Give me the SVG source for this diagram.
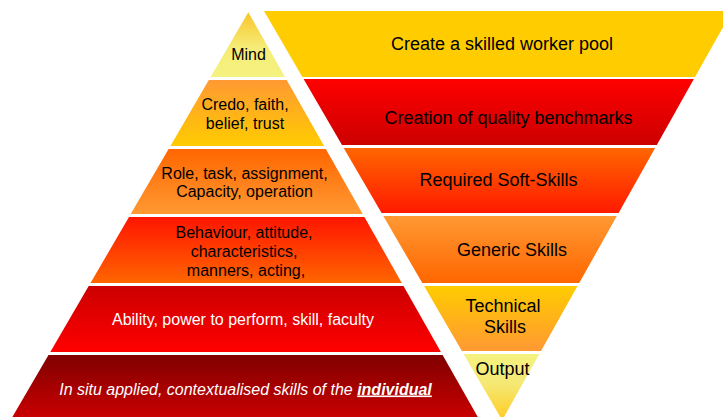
<svg xmlns="http://www.w3.org/2000/svg" width="723" height="417" viewBox="0 0 723 417">
  <defs>
    <linearGradient id="gMind" x1="0" y1="0" x2="0" y2="1">
      <stop offset="0" stop-color="#F9C52B"/>
      <stop offset="0.55" stop-color="#F5EC78"/>
      <stop offset="1" stop-color="#F5F280"/>
    </linearGradient>
    <linearGradient id="gCredo" x1="0" y1="0" x2="0" y2="1">
      <stop offset="0" stop-color="#FF9933"/>
      <stop offset="1" stop-color="#FFCC00"/>
    </linearGradient>
    <linearGradient id="gRole" x1="0" y1="0" x2="0" y2="1">
      <stop offset="0" stop-color="#FF6600"/>
      <stop offset="1" stop-color="#FF9933"/>
    </linearGradient>
    <linearGradient id="gBeh" x1="0" y1="0" x2="0" y2="1">
      <stop offset="0" stop-color="#FF1500"/>
      <stop offset="1" stop-color="#FF6600"/>
    </linearGradient>
    <linearGradient id="gAbil" x1="0" y1="0" x2="0" y2="1">
      <stop offset="0" stop-color="#CC0000"/>
      <stop offset="1" stop-color="#FF0000"/>
    </linearGradient>
    <linearGradient id="gSitu" x1="0" y1="0" x2="0" y2="1">
      <stop offset="0" stop-color="#800000"/>
      <stop offset="1" stop-color="#CC0000"/>
    </linearGradient>
    <linearGradient id="gCreation" x1="0" y1="0" x2="0" y2="1">
      <stop offset="0" stop-color="#FF0000"/>
      <stop offset="1" stop-color="#CC0000"/>
    </linearGradient>
    <linearGradient id="gReq" x1="0" y1="0" x2="0" y2="1">
      <stop offset="0" stop-color="#FF6600"/>
      <stop offset="1" stop-color="#FF1A00"/>
    </linearGradient>
    <linearGradient id="gGen" x1="0" y1="0" x2="0" y2="1">
      <stop offset="0" stop-color="#FF9933"/>
      <stop offset="1" stop-color="#FF6600"/>
    </linearGradient>
    <linearGradient id="gTech" x1="0" y1="0" x2="0" y2="1">
      <stop offset="0" stop-color="#FFCC00"/>
      <stop offset="1" stop-color="#FF9933"/>
    </linearGradient>
    <linearGradient id="gOut" x1="0" y1="0" x2="0" y2="1">
      <stop offset="0" stop-color="#F5F280"/>
      <stop offset="0.45" stop-color="#F5E874"/>
      <stop offset="1" stop-color="#FFCC22"/>
    </linearGradient>
  </defs>
  <style>
    text { font-family: "Liberation Sans", Arial, sans-serif; text-anchor: middle; fill: #000000; }
    .l { font-size: 16px; }
    .r { font-size: 18px; }
    .w { fill: #FFFFFF; }
  </style>
  <rect x="0" y="0" width="723" height="417" fill="#FFFFFF"/>

  <g id="pyramid-left">
    <g id="mind">
      <polygon points="248.3,12.3 285.0,77 210.6,77" fill="url(#gMind)"/>
      <text class="l" x="248.5" y="60">Mind</text>
    </g>
    <g id="credo">
      <polygon points="208.8,80 286.7,80 324.1,146 170.4,146" fill="url(#gCredo)"/>
      <text class="l" x="245" y="110">Credo, faith,</text>
      <text class="l" x="245" y="128.5">belief, trust</text>
    </g>
    <g id="role">
      <polygon points="168.6,149 325.8,149 362.7,214 130.7,214" fill="url(#gRole)"/>
      <text class="l" x="244.5" y="178.5">Role, task, assignment,</text>
      <text class="l" x="244.5" y="197">Capacity, operation</text>
    </g>
    <g id="behaviour">
      <polygon points="129.0,217 364.4,217 401.8,283 90.5,283" fill="url(#gBeh)"/>
      <text class="l" x="244" y="237.5">Behaviour, attitude,</text>
      <text class="l" x="244" y="256.5">characteristics,</text>
      <text class="l" x="246" y="275.5">manners, acting,</text>
    </g>
    <g id="ability">
      <polygon points="88.7,286 403.5,286 440.9,352 50.3,352" fill="url(#gAbil)"/>
      <text class="l w" x="243" y="325">Ability, power to perform, skill, faculty</text>
    </g>
    <g id="in-situ">
      <polygon points="48.5,355 442.6,355 479.5,420 10.6,420" fill="url(#gSitu)"/>
      <text class="l w" x="245.5" y="394.5" font-style="italic">In situ applied, contextualised skills of the <tspan font-weight="bold" text-decoration="underline">individual</tspan></text>
    </g>
  </g>

  <g id="pyramid-right">
    <g id="create">
      <polygon points="264,11 732.1,11 695,77 302.4,77" fill="#FFCC00"/>
      <text class="r" x="502" y="49.5">Create a skilled worker pool</text>
    </g>
    <g id="creation">
      <polygon points="303.6,79 693.9,79 656.8,145 342.0,145" fill="url(#gCreation)"/>
      <text class="r" x="508.5" y="123.5">Creation of quality benchmarks</text>
    </g>
    <g id="required">
      <polygon points="343.7,148 655.1,148 618.6,213 381.6,213" fill="url(#gReq)"/>
      <text class="r" x="498.5" y="186">Required Soft-Skills</text>
    </g>
    <g id="generic">
      <polygon points="383.3,216 616.9,216 579.2,283 422.3,283" fill="url(#gGen)"/>
      <text class="r" x="512" y="256">Generic Skills</text>
    </g>
    <g id="technical">
      <polygon points="424.1,286 577.5,286 541.0,351 461.9,351" fill="url(#gTech)"/>
      <text class="r" x="503" y="312">Technical</text>
      <text class="r" x="505" y="332.5">Skills</text>
    </g>
    <g id="output">
      <polygon points="463.6,354 539.3,354 502.2,420.2" fill="url(#gOut)"/>
      <text class="r" x="502.5" y="375">Output</text>
    </g>
  </g>

  <g id="connectors"/>
</svg>
